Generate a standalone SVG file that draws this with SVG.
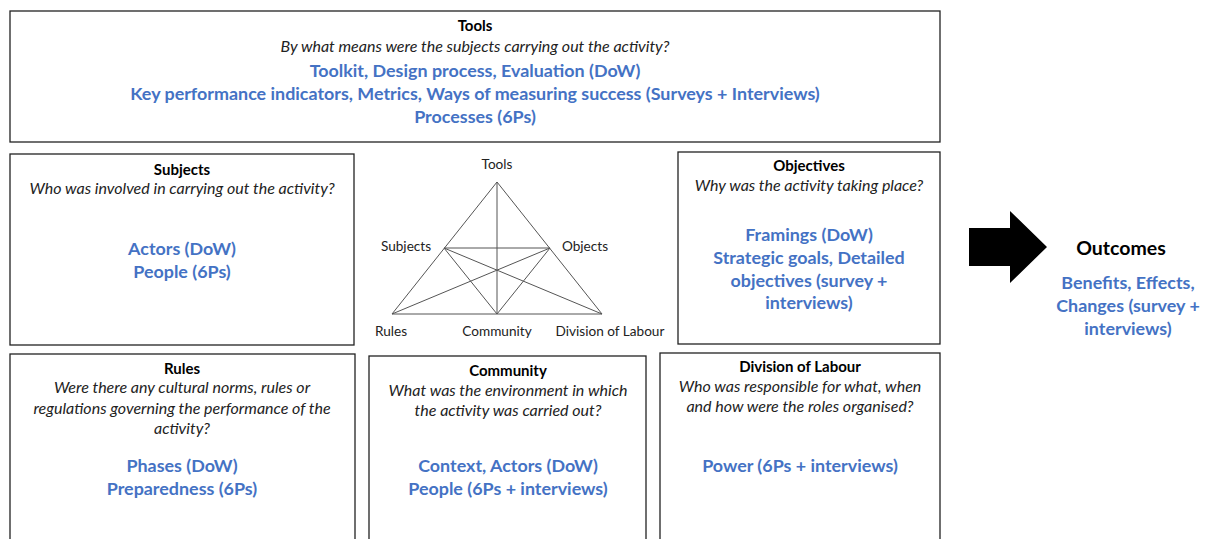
<svg xmlns="http://www.w3.org/2000/svg" width="1208" height="539" viewBox="0 0 1208 539">
<style>
text{font-family:Lato,"Liberation Sans",sans-serif;text-anchor:middle;}
.t{font-weight:bold;font-size:15px;fill:#000}
.q{font-style:italic;font-size:16px;fill:#222}
.b{font-weight:bold;font-size:17.9px;fill:#4472C4}
.box{fill:#fff;stroke:#222;stroke-width:1.3}
.l{font-size:13.6px;fill:#222}
.tri{stroke:#555;stroke-width:1;fill:none}
</style>
<rect width="1208" height="539" fill="#fff"/>
<g id="tools">
<rect class="box" x="10" y="11" width="930" height="131"/>
<text class="t" x="475" y="31">Tools</text>
<text class="q" x="475" y="52">By what means were the subjects carrying out the activity?</text>
<text class="b" x="475" y="77">Toolkit, Design process, Evaluation (DoW)</text>
<text class="b" x="475" y="100">Key performance indicators, Metrics, Ways of measuring success (Surveys + Interviews)</text>
<text class="b" x="475" y="123">Processes (6Ps)</text>
</g>
<g id="subjects">
<rect class="box" x="10" y="154" width="344" height="191"/>
<text class="t" x="182" y="175">Subjects</text>
<text class="q" x="182" y="194">Who was involved in carrying out the activity?</text>
<text class="b" x="182" y="255">Actors (DoW)</text>
<text class="b" x="182" y="278">People (6Ps)</text>
</g>
<g id="objectives">
<rect class="box" x="678" y="152" width="262" height="192"/>
<text class="t" x="809" y="171">Objectives</text>
<text class="q" x="809" y="191">Why was the activity taking place?</text>
<text class="b" x="809" y="241">Framings (DoW)</text>
<text class="b" x="809" y="264">Strategic goals, Detailed</text>
<text class="b" x="809" y="287">objectives (survey +</text>
<text class="b" x="809" y="309">interviews)</text>
</g>
<g id="rules">
<rect class="box" x="10" y="354" width="345" height="200"/>
<text class="t" x="182" y="374">Rules</text>
<text class="q" x="182" y="393">Were there any cultural norms, rules or</text>
<text class="q" x="182" y="414">regulations governing the performance of the</text>
<text class="q" x="182" y="434">activity?</text>
<text class="b" x="182" y="472">Phases (DoW)</text>
<text class="b" x="182" y="495">Preparedness (6Ps)</text>
</g>
<g id="community">
<rect class="box" x="369" y="356" width="277" height="200"/>
<text class="t" x="508" y="376">Community</text>
<text class="q" x="508" y="396">What was the environment in which</text>
<text class="q" x="508" y="416">the activity was carried out?</text>
<text class="b" x="508" y="472">Context, Actors (DoW)</text>
<text class="b" x="508" y="495">People (6Ps + interviews)</text>
</g>
<g id="division">
<rect class="box" x="660" y="353" width="280" height="200"/>
<text class="t" x="800" y="372">Division of Labour</text>
<text class="q" x="800" y="392">Who was responsible for what, when</text>
<text class="q" x="800" y="412">and how were the roles organised?</text>
<text class="b" x="800" y="472">Power (6Ps + interviews)</text>
</g>
<g id="triangle">
<path class="tri" d="M497,182 L392,314 L602,314 Z M497,182 L497,314 M444,248 L550,248 M444,248 L497,314 M444,248 L602,314 M550,248 L497,314 M550,248 L392,314"/>
<text class="l" x="497" y="169">Tools</text>
<text class="l" x="406" y="251">Subjects</text>
<text class="l" x="585" y="251">Objects</text>
<text class="l" x="391" y="336">Rules</text>
<text class="l" x="497" y="336">Community</text>
<text class="l" x="610" y="336">Division of Labour</text>
</g>
<g id="connectors">
<polygon points="969,228 1010,228 1010,211 1047,247 1010,283 1010,266 969,266" fill="#000"/>
</g>
<g id="outcomes">
<text x="1121" y="255" style="font-weight:bold;font-size:19.5px;fill:#000">Outcomes</text>
<text class="b" x="1128" y="289">Benefits, Effects,</text>
<text class="b" x="1128" y="312">Changes (survey +</text>
<text class="b" x="1128" y="335">interviews)</text>
</g>
</svg>
